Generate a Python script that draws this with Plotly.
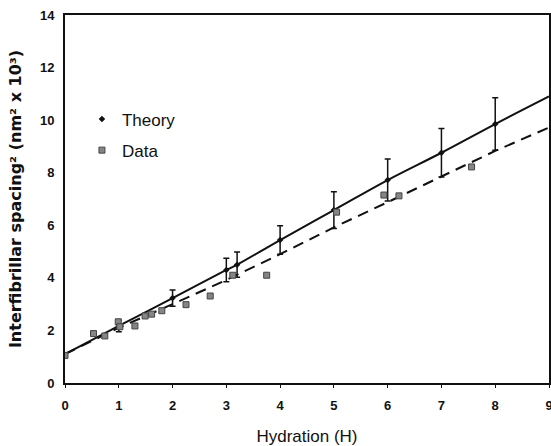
import plotly.graph_objects as go

# Theory curve (solid)
theory_x = [0, 1, 2, 3, 3.2, 4, 5, 6, 7, 8, 9]
theory_y = [1.1, 2.17, 3.23, 4.3, 4.5, 5.44, 6.58, 7.72, 8.76, 9.85, 10.9]

# Theory points with error bars
tp_x = [1, 2, 3, 3.2, 4, 5, 6, 7, 8]
tp_y = [2.17, 3.23, 4.3, 4.5, 5.44, 6.58, 7.72, 8.76, 9.85]
tp_err = [0.22, 0.31, 0.45, 0.48, 0.54, 0.7, 0.8, 0.92, 1.0]

# Dashed line
dash_x = [0, 1, 2, 3, 4, 5, 6, 7, 8, 9]
dash_y = [1.1, 2.1, 3.0, 3.92, 4.9, 5.92, 6.88, 7.87, 8.83, 9.72]

# Measured data
data_x = [0, 0.53, 0.74, 0.99, 1.02, 1.3, 1.49, 1.61, 1.8, 2.25, 2.7, 3.12, 3.75, 5.05, 5.93, 6.21, 7.56]
data_y = [1.05, 1.88, 1.79, 2.33, 2.14, 2.17, 2.55, 2.62, 2.75, 2.98, 3.31, 4.1, 4.1, 6.5, 7.15, 7.12, 8.22]

x_ticks = list(range(0, 10))
y_ticks = list(range(0, 15, 2))

tick_font = dict(family="Liberation Sans Narrow, Arial Narrow, Liberation Sans, Arial", size=13,
                 color="#111", weight="bold")

fig = go.Figure()
fig.add_trace(go.Scatter(x=dash_x, y=dash_y, mode="lines", showlegend=False,
                         line=dict(color="#111", width=2, dash="11px,7px")))
fig.add_trace(go.Scatter(x=theory_x, y=theory_y, mode="lines", showlegend=False,
                         line=dict(color="#111", width=2, shape="spline")))
fig.add_trace(go.Scatter(x=tp_x, y=tp_y, mode="markers", name="Theory", legendgroup="t",
                         marker=dict(symbol="diamond", size=5, color="#111"),
                         error_y=dict(type="data", array=tp_err, color="#111",
                                      thickness=1.5, width=3)))
fig.add_trace(go.Scatter(x=data_x, y=data_y, mode="markers", name="Data", legendgroup="d",
                         marker=dict(symbol="square", size=6, color="#858585",
                                     line=dict(color="#444", width=1))))

fig.update_layout(
    width=551, height=446,
    margin=dict(l=65, r=2, t=15, b=63),
    paper_bgcolor="white", plot_bgcolor="white",
    showlegend=True,
    legend=dict(x=0.035, y=0.765, xanchor="left", yanchor="top",
                traceorder="grouped", bgcolor="rgba(0,0,0,0)",
                font=dict(family="Liberation Sans, Arial", size=17, color="#111"),
                itemsizing="trace", tracegroupgap=6),
    xaxis=dict(range=[0, 9], tickvals=x_ticks, ticktext=[str(v) for v in x_ticks],
               automargin=False, ticklabeloverflow="allow", ticklabelstandoff=6,
               showgrid=False, zeroline=False, showline=True, linecolor="#111",
               linewidth=2, mirror=True, ticks="outside", ticklen=3, tickcolor="#111",
               tickfont=tick_font,
               title=dict(text="Hydration (H)", standoff=21,
                          font=dict(family="Liberation Sans Narrow, Arial Narrow, Liberation Sans",
                                    size=17, color="#111"))),
    yaxis=dict(range=[0, 14], tickvals=y_ticks, ticktext=[str(v) for v in y_ticks],
               automargin=False, ticklabeloverflow="allow",
               showgrid=False, zeroline=False, showline=True, linecolor="#111",
               linewidth=2, mirror=True, ticks="", tickfont=tick_font,
               ticklabelstandoff=6,
               title=dict(text="Interfibrillar spacing² (nm² x 10³)", standoff=14,
                          font=dict(family="DejaVu Sans", size=16, color="#111",
                                    weight="bold"))),
)

fig.write_html("out.html", config={"displayModeBar": False},
               post_script="document.body.style.margin='0';document.body.style.overflow='hidden';")
